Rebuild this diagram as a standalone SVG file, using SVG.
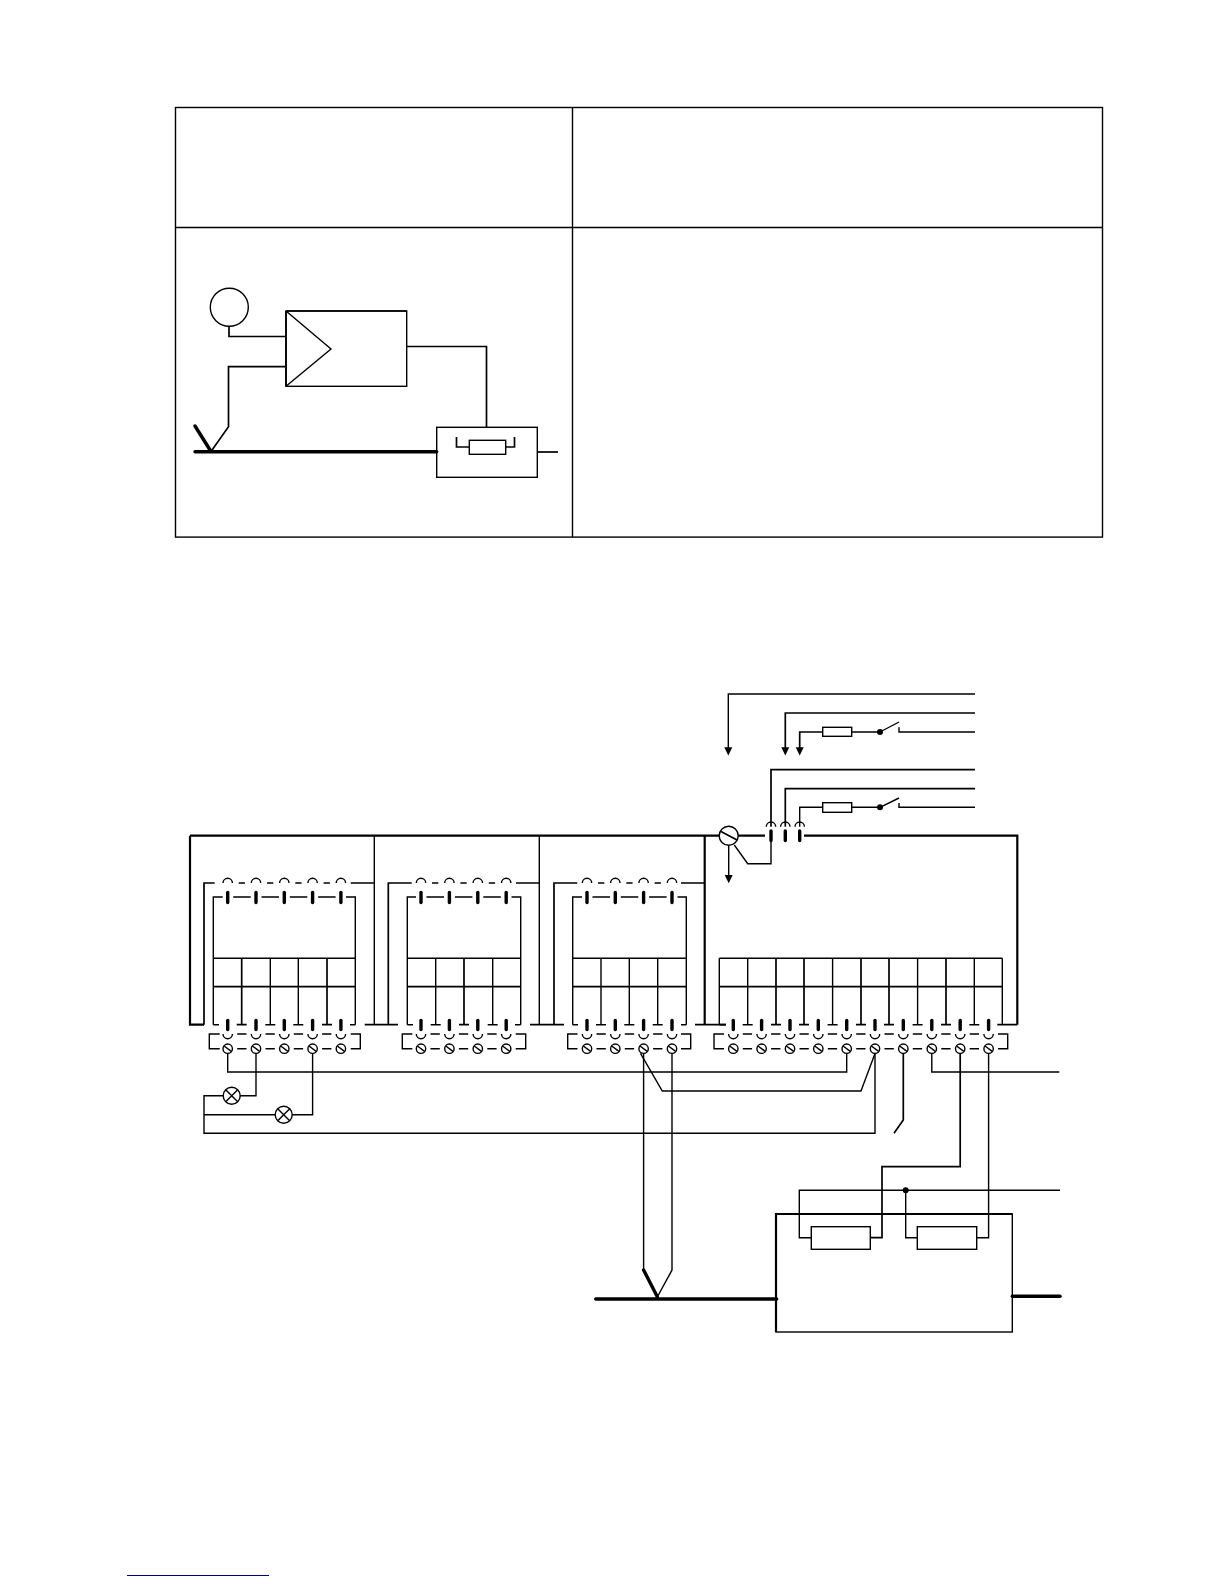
<svg xmlns="http://www.w3.org/2000/svg" width="1224" height="1584" viewBox="0 0 1224 1584">
<style>
.l{fill:none;stroke:#000;stroke-width:1.4;stroke-linejoin:miter}
.m{fill:none;stroke:#000;stroke-width:1.7}
.h{fill:none;stroke:#000;stroke-width:2.2}
.b{fill:none;stroke:#000;stroke-width:3.4;stroke-linecap:round}
.c{fill:none;stroke:#000;stroke-width:3.4;stroke-linecap:round}
.w{fill:#fff;stroke:#000;stroke-width:1.4}
.k{fill:#000;stroke:none}
</style>
<defs>
<g id="top"><path class="l" d="M-4.7 883a4.7 4.7 0 0 1 9.4 0"/><path class="c" d="M0 892.5V902.5"/></g>
<path id="toplink" class="l" d="M11 883H17.3M5.5 897H23"/>
<g id="bot"><path class="c" d="M0 1020.5V1029.5"/><path class="l" d="M-4.7 1034a4.7 4.7 0 0 0 9.4 0"/><circle class="l" cy="1048.7" r="4.7"/><path class="l" d="M-3.6 1046L3.6 1051.4"/></g>
<path id="botlink" class="l" d="M9.5 1034H18.8M9.5 1048.7H18.8"/>
<path id="vert" class="l" d="M0 958.3V1024.7M-5 1024.7H5"/>
<path id="vertH" class="m" d="M0 958.3V1024.7M-5 1024.7H5"/>
<path id="arrow" class="k" d="M-4 0H4L0 8.2Z"/>
</defs>

<g id="table"><rect class="l" x="175.5" y="107.5" width="927" height="429.6"/><path class="l" d="M175.5 227.5H1102.5M572.5 107.5V537"/></g>

<g id="upper-sensor"><circle class="l" cx="229.3" cy="307.3" r="19"/></g>
<g id="upper-amplifier"><rect class="l" x="286" y="311" width="120.7" height="75.3"/><path class="l" d="M286 311L331 349L286 386.3"/><path class="m" d="M286 311V386.3M286 311H406.7"/></g>
<g id="upper-box"><rect class="l" x="436.7" y="427.3" width="100.6" height="50"/><rect class="l" x="469.3" y="440.3" width="36.4" height="14"/><path class="m" d="M456.5 437V447H469.3M505.7 447H514.5V437"/></g>
<g id="upper-connectors">
<path class="m" d="M229 326.3V336.5H286M286 366.7H228.5V426.7L211 451.5"/>
<path class="b" d="M195 426L211 451.5M195 451.7H436.7"/>
<path class="m" d="M406.7 346.5H486.5V427.3"/>
<path class="m" d="M537.3 452H558"/>
</g>

<g id="frame"><path class="h" d="M704.7 1024.7V835.7M190 835.7H765M804 835.7H1017.3V1024.7M190 835.7V1024.7H204"/><path class="l" d="M374.3 835.7V1024.7M539.3 835.7V1024.7"/></g>

<g id="block1">
<path class="m" d="M204 1024.7V883H214.7M350.7 883H374.3M364.7 1024.7H398"/>
<path class="l" d="M213.3 1024.7V897H222.7M346 897H355.3V1024.7M213.3 958.3H355.3"/>
<path class="m" d="M213.3 986.7H355.3"/>
<use href="#top" x="227.7"/><use href="#top" x="256"/><use href="#top" x="284.3"/><use href="#top" x="312.6"/><use href="#top" x="340.9"/>
<use href="#toplink" x="227.7"/><use href="#toplink" x="256"/><use href="#toplink" x="284.3"/><use href="#toplink" x="312.6"/>
<path class="l" d="M213.3 1024.7H219M350 1024.7H355.3"/>
<use href="#vertH" x="241.7"/><use href="#vert" x="270.3"/><use href="#vert" x="298.3"/><use href="#vertH" x="327"/>
<use href="#bot" x="227.7"/><use href="#bot" x="256"/><use href="#bot" x="284.3"/><use href="#bot" x="312.6"/><use href="#bot" x="340.9"/>
<use href="#botlink" x="227.7"/><use href="#botlink" x="256"/><use href="#botlink" x="284.3"/><use href="#botlink" x="312.6"/>
<path class="l" d="M219.7 1034H209.3V1048.7H219.7M350.7 1034H360.3V1048.7H350.7"/>
</g>

<g id="block2">
<path class="m" d="M388.3 1024.7V883H411.7M516 883H539.3M530 1024.7H564"/>
<path class="l" d="M407.3 1024.7V897H416M407.3 958.3H520.7M511.5 897H520.7V1024.7"/>
<path class="m" d="M407.3 986.7H520.7"/>
<use href="#top" x="421"/><use href="#top" x="449.4"/><use href="#top" x="477.8"/><use href="#top" x="506.2"/>
<use href="#toplink" x="421"/><use href="#toplink" x="449.4"/><use href="#toplink" x="477.8"/>
<path class="l" d="M407.3 1024.7H413M515 1024.7H520.7"/>
<use href="#vert" x="435.7"/><use href="#vertH" x="464"/><use href="#vert" x="492.7"/>
<use href="#bot" x="421"/><use href="#bot" x="449.4"/><use href="#bot" x="477.8"/><use href="#bot" x="506.2"/>
<use href="#botlink" x="421"/><use href="#botlink" x="449.4"/><use href="#botlink" x="477.8"/>
<path class="l" d="M412.3 1034H402.3V1048.7H412.3M515.7 1034H525.7V1048.7H515.7"/>
</g>

<g id="block3">
<path class="m" d="M554 1024.7V883H577.3M681 883H704.7M695 1024.7H726"/>
<path class="l" d="M572.7 1024.7V897H582M572.7 958.3H686.3M677.5 897H686.3V1024.7"/>
<path class="m" d="M572.7 986.7H686.3"/>
<use href="#top" x="587"/><use href="#top" x="615.3"/><use href="#top" x="643.6"/><use href="#top" x="672"/>
<use href="#toplink" x="587"/><use href="#toplink" x="615.3"/><use href="#toplink" x="643.6"/>
<path class="l" d="M572.7 1024.7H578M681 1024.7H686.3"/>
<use href="#vert" x="601"/><use href="#vert" x="629.3"/><use href="#vert" x="657.7"/>
<use href="#bot" x="587"/><use href="#bot" x="615.3"/><use href="#bot" x="643.6"/><use href="#bot" x="672"/>
<use href="#botlink" x="587"/><use href="#botlink" x="615.3"/><use href="#botlink" x="643.6"/>
<path class="l" d="M577.5 1034H567.7V1048.7H577.5M681 1034H690.7V1048.7H681"/>
</g>

<g id="block4">
<path class="l" d="M719.3 958.3H1002.3M719.3 958.3V1024.7M1002.3 958.3V1024.7"/>
<path class="m" d="M719.3 986.7H1002.3M726 1024.7H719.3M997.3 1024.7H1017.3"/>
<use href="#vert" x="747.7"/><use href="#vertH" x="776"/><use href="#vertH" x="804"/><use href="#vert" x="832.6"/><use href="#vertH" x="861"/><use href="#vertH" x="889"/><use href="#vert" x="917.6"/><use href="#vertH" x="946"/><use href="#vert" x="974.3"/>
<use href="#bot" x="733.3"/><use href="#bot" x="761.6"/><use href="#bot" x="790"/><use href="#bot" x="818.3"/><use href="#bot" x="846.7"/><use href="#bot" x="875"/><use href="#bot" x="903.3"/><use href="#bot" x="931.8"/><use href="#bot" x="960.2"/><use href="#bot" x="988.6"/>
<use href="#botlink" x="733.3"/><use href="#botlink" x="761.6"/><use href="#botlink" x="790"/><use href="#botlink" x="818.3"/><use href="#botlink" x="846.7"/><use href="#botlink" x="875"/><use href="#botlink" x="903.3"/><use href="#botlink" x="931.8"/><use href="#botlink" x="960.2"/>
<path class="l" d="M724 1034H714V1048.7H724M998 1034H1007.7V1048.7H998"/>
</g>

<g id="meter"><circle class="w" cx="728.7" cy="835.7" r="9.5"/><path class="m" d="M721 831.5L737 840"/></g>
<g id="transformers">
<path class="l" d="M766.3 826.7a4.7 4.7 0 0 1 9.4 0M780.6 826.7a4.7 4.7 0 0 1 9.4 0M795 826.7a4.7 4.7 0 0 1 9.4 0"/>
<path class="c" d="M771 831V840.5M785.3 831V840.5M799.7 831V840.5"/>
</g>
<g id="fuse1"><rect class="l" x="822.7" y="727.3" width="29" height="9"/></g>
<g id="fuse2"><rect class="l" x="822.7" y="802.7" width="29" height="9.6"/></g>
<g id="switch1"><circle class="k" cx="880" cy="732" r="3"/><path class="l" d="M880 732L899 722M899 727.3V732H975"/></g>
<g id="switch2"><circle class="k" cx="880" cy="807.3" r="3"/><path class="l" d="M880 807.3L899 798M899 803V807.3H975"/></g>
<g id="lamp1"><circle class="w" cx="231.7" cy="1095.7" r="8.5"/><path class="l" d="M225.7 1089.7L237.7 1101.7M237.7 1089.7L225.7 1101.7"/></g>
<g id="lamp2"><circle class="w" cx="283.7" cy="1114.7" r="8.5"/><path class="l" d="M277.7 1108.7L289.7 1120.7M289.7 1108.7L277.7 1120.7"/></g>
<g id="lower-box"><rect class="l" x="776" y="1214" width="236.3" height="118"/><path class="h" d="M776 1332V1214H1012.3"/></g>
<g id="resistor1"><rect class="l" x="811.3" y="1226.7" width="59" height="22.6"/></g>
<g id="resistor2"><rect class="l" x="917.3" y="1226.7" width="59.4" height="22.6"/></g>

<g id="connectors">
<path class="l" d="M975 694H728.3V748"/>
<use href="#arrow" x="728.3" y="747.3"/>
<path class="m" d="M975 713H785.3V748"/>
<use href="#arrow" x="785.3" y="747.3"/>
<path class="m" d="M799.7 748V732H822.7M851.7 732H880"/>
<use href="#arrow" x="799.7" y="747.3"/>
<path class="m" d="M975 769.7H771V826.7M975 788.7H785.3V826.7"/>
<path class="l" d="M799.7 826.7V807.3H822.7M851.7 807.3H880"/>
<path class="l" d="M728.7 845.2V876"/>
<use href="#arrow" x="728.7" y="875"/>
<path class="l" d="M734.3 845L747.7 863.7H771V838"/>
<path class="l" d="M227.7 1053.4V1072H846.7V1053.4"/>
<path class="l" d="M256 1053.4V1095.7H240.2M223.2 1095.7H204V1133.3H875V1053.4"/>
<path class="l" d="M312.6 1053.4V1114.7H292.2M275.2 1114.7H204"/>
<path class="l" d="M640.5 1053.4L662.3 1091H861L875 1053.4"/>
<path class="l" d="M643.6 1053.4V1270L657.3 1297"/>
<path class="l" d="M672 1053.4V1270L657.3 1297"/>
<path class="b" d="M643.6 1270L657.3 1296.7M595.7 1299H776.7"/>
<path class="m" d="M903.3 1053.4V1120L894 1133.3"/>
<path class="l" d="M931.8 1053.4V1072H1059.3"/>
<path class="m" d="M960.2 1053.4V1166.7H882V1237.7H870.3"/>
<path class="l" d="M988.6 1053.4V1237.7H976.7"/>
<path class="l" d="M811.3 1237.7H799.3V1190.3H1060M905.7 1190.3V1237.7H917.3"/>
<circle class="k" cx="905.7" cy="1190.3" r="3"/>
<path class="b" d="M1012.3 1296.3H1060"/>
</g>
<path id="footer" fill="none" stroke="#000080" stroke-width="1" d="M127 1575.5H269"/>
</svg>
